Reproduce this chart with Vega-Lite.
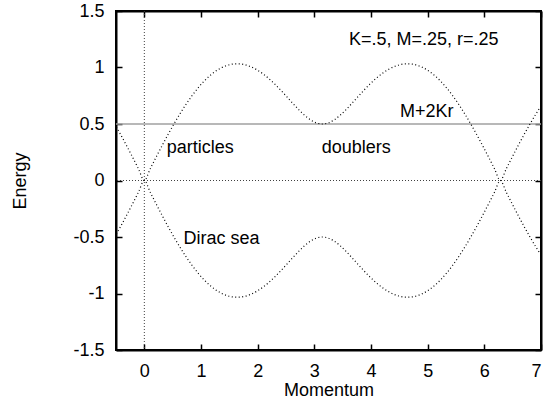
{
  "$schema": "https://vega.github.io/schema/vega-lite/v6.json",
  "width": 425,
  "height": 339,
  "autosize": {"type": "none"},
  "padding": {"left": 116, "top": 11, "right": 5, "bottom": 50},
  "background": "white",
  "config": {
    "font": "Liberation Sans",
    "view": {"stroke": "black", "strokeWidth": 2},
    "axis": {
      "labelFont": "Liberation Sans",
      "titleFont": "Liberation Sans",
      "labelFontSize": 18,
      "titleFontSize": 18,
      "titleFontWeight": "normal",
      "labelColor": "black",
      "titleColor": "black",
      "tickColor": "black",
      "tickWidth": 1.5,
      "tickSize": -6,
      "domain": true,
      "domainColor": "black",
      "domainWidth": 2,
      "grid": false,
      "labelExpr": "datum.value + ''"
    }
  },
  "datasets": {
    "curve": [
      {"p": -0.5236, "up": 0.5011, "lo": -0.5011},
      {"p": -0.4189, "up": 0.4073, "lo": -0.4073},
      {"p": -0.3142, "up": 0.3093, "lo": -0.3093},
      {"p": -0.2094, "up": 0.2080, "lo": -0.2080},
      {"p": -0.1047, "up": 0.1045, "lo": -0.1045},
      {"p": 0, "up": 0, "lo": 0},
      {"p": 0.1047, "up": 0.1045, "lo": -0.1045},
      {"p": 0.2094, "up": 0.2080, "lo": -0.2080},
      {"p": 0.3142, "up": 0.3093, "lo": -0.3093},
      {"p": 0.4189, "up": 0.4073, "lo": -0.4073},
      {"p": 0.5236, "up": 0.5011, "lo": -0.5011},
      {"p": 0.6283, "up": 0.5897, "lo": -0.5897},
      {"p": 0.7330, "up": 0.6722, "lo": -0.6722},
      {"p": 0.8378, "up": 0.7477, "lo": -0.7477},
      {"p": 0.9425, "up": 0.8156, "lo": -0.8156},
      {"p": 1.0472, "up": 0.8750, "lo": -0.8750},
      {"p": 1.1519, "up": 0.9255, "lo": -0.9255},
      {"p": 1.2566, "up": 0.9666, "lo": -0.9666},
      {"p": 1.3614, "up": 0.9980, "lo": -0.9980},
      {"p": 1.4661, "up": 1.0194, "lo": -1.0194},
      {"p": 1.5708, "up": 1.0308, "lo": -1.0308},
      {"p": 1.6755, "up": 1.0322, "lo": -1.0322},
      {"p": 1.7802, "up": 1.0237, "lo": -1.0237},
      {"p": 1.8850, "up": 1.0058, "lo": -1.0058},
      {"p": 1.9897, "up": 0.9789, "lo": -0.9789},
      {"p": 2.0944, "up": 0.9437, "lo": -0.9437},
      {"p": 2.1991, "up": 0.9012, "lo": -0.9012},
      {"p": 2.3038, "up": 0.8523, "lo": -0.8523},
      {"p": 2.4086, "up": 0.7985, "lo": -0.7985},
      {"p": 2.5133, "up": 0.7416, "lo": -0.7416},
      {"p": 2.6180, "up": 0.6838, "lo": -0.6838},
      {"p": 2.7227, "up": 0.6279, "lo": -0.6279},
      {"p": 2.8274, "up": 0.5774, "lo": -0.5774},
      {"p": 2.9322, "up": 0.5365, "lo": -0.5365},
      {"p": 3.0369, "up": 0.5095, "lo": -0.5095},
      {"p": 3.1416, "up": 0.5000, "lo": -0.5000},
      {"p": 3.2463, "up": 0.5095, "lo": -0.5095},
      {"p": 3.3510, "up": 0.5365, "lo": -0.5365},
      {"p": 3.4558, "up": 0.5774, "lo": -0.5774},
      {"p": 3.5605, "up": 0.6279, "lo": -0.6279},
      {"p": 3.6652, "up": 0.6838, "lo": -0.6838},
      {"p": 3.7699, "up": 0.7416, "lo": -0.7416},
      {"p": 3.8746, "up": 0.7985, "lo": -0.7985},
      {"p": 3.9794, "up": 0.8523, "lo": -0.8523},
      {"p": 4.0841, "up": 0.9012, "lo": -0.9012},
      {"p": 4.1888, "up": 0.9437, "lo": -0.9437},
      {"p": 4.2935, "up": 0.9789, "lo": -0.9789},
      {"p": 4.3982, "up": 1.0058, "lo": -1.0058},
      {"p": 4.5029, "up": 1.0237, "lo": -1.0237},
      {"p": 4.6077, "up": 1.0322, "lo": -1.0322},
      {"p": 4.7124, "up": 1.0308, "lo": -1.0308},
      {"p": 4.8171, "up": 1.0194, "lo": -1.0194},
      {"p": 4.9218, "up": 0.9980, "lo": -0.9980},
      {"p": 5.0265, "up": 0.9666, "lo": -0.9666},
      {"p": 5.1313, "up": 0.9255, "lo": -0.9255},
      {"p": 5.2360, "up": 0.8750, "lo": -0.8750},
      {"p": 5.3407, "up": 0.8156, "lo": -0.8156},
      {"p": 5.4454, "up": 0.7477, "lo": -0.7477},
      {"p": 5.5501, "up": 0.6722, "lo": -0.6722},
      {"p": 5.6549, "up": 0.5897, "lo": -0.5897},
      {"p": 5.7596, "up": 0.5011, "lo": -0.5011},
      {"p": 5.8643, "up": 0.4073, "lo": -0.4073},
      {"p": 5.9690, "up": 0.3093, "lo": -0.3093},
      {"p": 6.0737, "up": 0.2080, "lo": -0.2080},
      {"p": 6.1785, "up": 0.1045, "lo": -0.1045},
      {"p": 6.2832, "up": 0, "lo": 0},
      {"p": 6.3879, "up": 0.1045, "lo": -0.1045},
      {"p": 6.4926, "up": 0.2080, "lo": -0.2080},
      {"p": 6.5973, "up": 0.3093, "lo": -0.3093},
      {"p": 6.7021, "up": 0.4073, "lo": -0.4073},
      {"p": 6.8068, "up": 0.5011, "lo": -0.5011},
      {"p": 6.9115, "up": 0.5897, "lo": -0.5897},
      {"p": 7.0162, "up": 0.6722, "lo": -0.6722}
    ],
    "labels": [
      {"p": 3.61, "E": 1.195, "label": "K=.5, M=.25, r=.25"},
      {"p": 4.51, "E": 0.56, "label": "M+2Kr"},
      {"p": 0.395, "E": 0.243, "label": "particles"},
      {"p": 3.13, "E": 0.243, "label": "doublers"},
      {"p": 0.69, "E": -0.565, "label": "Dirac sea"}
    ],
    "hlines": [
      {"level": 0.5, "kind": "M+2Kr"},
      {"level": 0, "kind": "zero"}
    ],
    "vlines": [
      {"pos": 0}
    ]
  },
  "resolve": {"axis": {"x": "independent", "y": "independent"}},
  "layer": [
    {
      "data": {"name": "hlines"},
      "transform": [{"filter": "datum.kind == 'M+2Kr'"}],
      "mark": {"type": "rule", "color": "#a0a0a0", "strokeWidth": 1.5},
      "encoding": {"y": {"field": "level", "type": "quantitative", "scale": {"domain": [-1.5, 1.5], "nice": false, "zero": false}, "axis": null}}
    },
    {
      "data": {"name": "hlines"},
      "transform": [{"filter": "datum.kind == 'zero'"}],
      "mark": {"type": "rule", "color": "#404040", "strokeWidth": 1, "strokeDash": [1, 2]},
      "encoding": {"y": {"field": "level", "type": "quantitative", "axis": null}}
    },
    {
      "data": {"name": "vlines"},
      "mark": {"type": "rule", "color": "#404040", "strokeWidth": 1, "strokeDash": [1, 2]},
      "encoding": {"x": {"field": "pos", "type": "quantitative", "scale": {"domain": [-0.5, 7], "nice": false, "zero": false}, "axis": null}}
    },
    {
      "data": {"name": "curve"},
      "transform": [{"fold": ["up", "lo"], "as": ["branch", "E"]}],
      "mark": {"type": "line", "color": "black", "strokeWidth": 1.2, "strokeDash": [1, 2.5], "clip": true, "interpolate": "monotone"},
      "encoding": {
        "x": {"field": "p", "type": "quantitative",
              "axis": {"orient": "bottom", "title": "Momentum", "values": [0,1,2,3,4,5,6,7], "labelPadding": 18, "titleY": 45, "titleBaseline": "alphabetic", "titleX": 212.5}},
        "y": {"field": "E", "type": "quantitative",
              "axis": {"orient": "left", "title": "Energy", "values": [-1.5,-1,-0.5,0,0.5,1,1.5], "labelPadding": 18, "titleX": -96, "titleY": 169.5, "titleBaseline": "middle", "titleAngle": -90, "titleAlign": "center"}},
        "detail": {"field": "branch"}
      }
    },
    {
      "data": {"name": "labels"},
      "mark": {"type": "text", "align": "left", "baseline": "alphabetic", "fontSize": 18, "color": "black"},
      "encoding": {
        "x": {"field": "p", "type": "quantitative",
              "axis": {"orient": "top", "title": null, "labels": false, "values": [0,1,2,3,4,5,6,7]}},
        "y": {"field": "E", "type": "quantitative",
              "axis": {"orient": "right", "title": null, "labels": false, "values": [-1.5,-1,-0.5,0,0.5,1,1.5]}},
        "text": {"field": "label"}
      }
    }
  ]
}
